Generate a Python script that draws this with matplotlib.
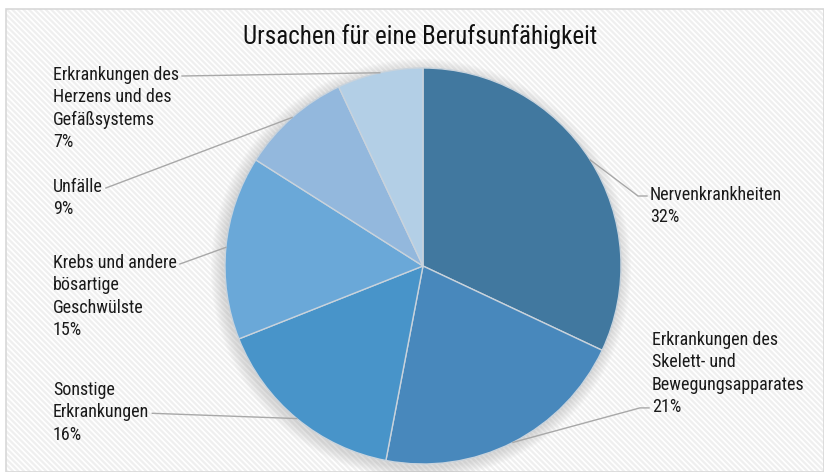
import numpy as np
import matplotlib
matplotlib.use('Agg')
import matplotlib.pyplot as plt
from matplotlib.patches import Rectangle, Circle

# ---- data ----
labels = ['Nervenkrankheiten',
          'Erkrankungen des\nSkelett- und\nBewegungsapparates',
          'Sonstige\nErkrankungen',
          'Krebs und andere\nbösartige\nGeschwülste',
          'Unfälle',
          'Erkrankungen des\nHerzens und des\nGefäßsystems']
shares = [32, 21, 16, 15, 9, 7]
colors = ['#41789f', '#4888bc', '#4894c9', '#6aa8d8', '#93b8dd', '#b3cfe6']
title = 'Ursachen für eine Berufsunfähigkeit'

# label text anchor (top-left, pixel coords from top) and the line the leader attaches to
label_pos = [(650, 186), (652, 331), (53, 381), (53, 254), (53, 178), (53, 66)]
leader_row = [0, 3, 1, 0, 0, 0]

plt.rcParams['font.family'] = ['Roboto Condensed', 'DejaVu Sans']
plt.rcParams['hatch.linewidth'] = 1.2

W, H = 824, 472
LS = 22.3  # line step in px
FS = 13
fig = plt.figure(figsize=(W / 100, H / 100), dpi=100)
ax = fig.add_axes([0, 0, 1, 1])

# background panel with diagonal stripes
ax.add_patch(Rectangle((6, 0), W - 6, H - 9, facecolor='#efefef',
                       edgecolor='white', hatch='\\\\\\\\\\\\', lw=0, zorder=0))
ax.add_patch(Rectangle((6, 0), W - 6, H - 9, fill=False,
                       edgecolor='#d8d8d8', lw=1.2, zorder=1))

cx, cy, r = 423, H - 266, 198

# soft shadow
for k in range(10, 0, -1):
    ax.add_patch(Circle((cx - 2, cy - 3), r + k * 1.2, color='#9a9a9a',
                        alpha=0.035, lw=0, zorder=2))

wedges, _ = ax.pie(shares, colors=colors, startangle=90, counterclock=False,
                   center=(cx, cy), radius=r, frame=True,
                   wedgeprops=dict(edgecolor='#c9d3dc', linewidth=1.0))
for w in wedges:
    w.set_zorder(3)
ax.set_xlim(0, W)
ax.set_ylim(0, H)
ax.set_aspect('auto')

renderer = fig.canvas.get_renderer()

# labels + leader lines
for i, (w, lab, pct) in enumerate(zip(wedges, labels, shares)):
    mid = np.deg2rad((w.theta1 + w.theta2) / 2)
    ex, ey = cx + r * np.cos(mid), cy + r * np.sin(mid)
    tx, ty = label_pos[i]
    lines = lab.split('\n') + [f'{pct}%']
    texts = []
    for k, line in enumerate(lines):
        texts.append(ax.text(tx, H - (ty + LS * k), line, ha='left', va='top',
                             fontsize=FS, color='#1a1a1a', zorder=5))
    row = leader_row[i]
    ly = H - (ty + LS * row + 10)
    if ex > cx:
        ax.plot([ex, tx - 12, tx - 3], [ey, ly, ly], color='#a8a8a8', lw=1, zorder=4)
    else:
        wpx = texts[row].get_window_extent(renderer).width
        sx = tx + wpx + 3
        ax.plot([sx, ex], [ly, ey], color='#a8a8a8', lw=1, zorder=4)

ax.text(420, H - 37, title, ha='center', va='center', fontsize=18,
        color='#111111', zorder=5)

ax.axis('off')

fig.savefig('out.png', dpi=100, facecolor='white')
